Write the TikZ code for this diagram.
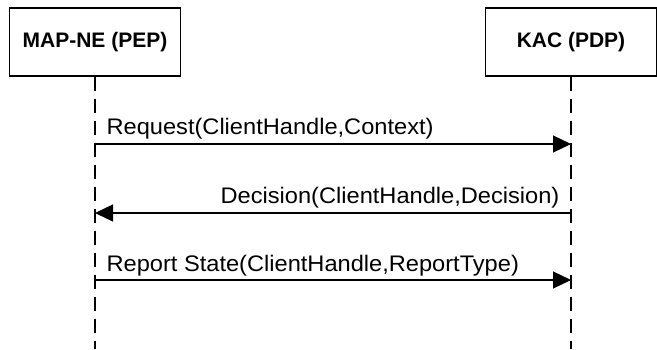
\documentclass[tikz,border=0pt]{standalone}
\usepackage{fontspec}
\setmainfont{Liberation Sans}[FakeStretch=1.05]
\newfontfamily\boxfont{Liberation Sans}
\usepackage{tikz}
\usetikzlibrary{arrows.meta, positioning}

\tikzset{
  entity/.style={draw, line width=1.2pt, minimum width=171pt, minimum height=68pt,
    inner sep=0pt, font=\boxfont\fontsize{21}{25}\selectfont\bfseries},
  lifeline/.style={line width=1.1pt, dash pattern=on 14pt off 8pt},
  msg/.style={line width=1.2pt, -{Triangle[length=18pt,width=17pt]}},
  msglabel/.style={font=\fontsize{22.5}{27}\selectfont, inner sep=0pt}
}

\begin{document}
\begin{tikzpicture}[x=1pt, y=-1pt]
			\useasboundingbox (0,0) rectangle (657,349);
			
			% Instanzen oben
			\node[entity] (pep) at (95,42) {MAP-NE (PEP)};
			\node[entity] (pdp) at (571,42) {KAC (PDP)};
			
			% Lebenslinien
			\coordinate (pep end) at (95,349);
			\coordinate (pdp end) at (571,349);
			\draw[lifeline] (pep.south) -- (pep end);
			\draw[lifeline] (pdp.south) -- (pdp end);
			
			% Punkte der Nachrichten auf den Lebenslinien
			\coordinate (pep1) at (95,144);
			\coordinate (pdp1) at (571,144);
			\coordinate (pep2) at (95,213);
			\coordinate (pdp2) at (571,213);
			\coordinate (pep3) at (95,280);
			\coordinate (pdp3) at (571,280);
			
			% Nachrichten
			\draw[msg] (pep1) -- (pdp1)
				node[msglabel, pos=0, anchor=base west, xshift=11pt, yshift=10pt] (req) {Request(ClientHandle,Context)};
			\draw[msg] (pdp2) -- (pep2)
				node[msglabel, pos=0, anchor=base east, xshift=-11pt, yshift=10pt] (dec) {Decision(ClientHandle,Decision)};
			\draw[msg] (pep3) -- (pdp3)
				node[msglabel, pos=0, anchor=base west, xshift=11pt, yshift=9pt] (rpt) {Report State(ClientHandle,ReportType)};
		\end{tikzpicture}
\end{document}
